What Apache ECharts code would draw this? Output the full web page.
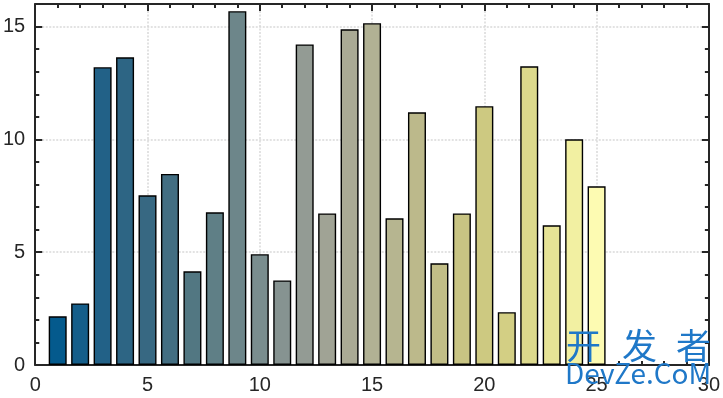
<!DOCTYPE html>
<html lang="en">
<head>
    <meta charset="UTF-8">
    <title>bar</title>
    <script src="https://cdn.jsdelivr.net/npm/echarts@6/dist/echarts.min.js"></script>
    <style>
        html, body { margin: 0; padding: 0; background: #fff; }
        .box { width: 723px; height: 398px; }
    </style>
</head>
<body>
    <div class="box"></div>
</body>
<script>
 // 数据
 let xs = [1, 2, 3, 4, 5, 6, 7, 8, 9, 10, 11, 12, 13, 14, 15, 16, 17, 18, 19, 20, 21, 22, 23, 24, 25]
 let vals = [2.16, 2.73, 13.2, 13.64, 7.52, 8.47, 4.15, 6.77, 15.68, 4.91, 3.75, 14.21, 6.72,
             14.88, 15.15, 6.50, 11.2, 4.51, 6.72, 11.47, 2.34, 13.24, 6.19, 10.0, 7.92]
 // 每根柱子的颜色
 let colors = ['#045A8D', '#155E8A', '#226187', '#2D6584', '#376882', '#436E82', '#527782', '#5F7F86',
               '#6D868A', '#7A8D8E', '#869391', '#939B94', '#A0A395', '#AAAA95', '#B1B194', '#B6B590',
               '#BCB98B', '#C2BE87', '#C8C483', '#CDC981', '#D3CF84', '#DCD98C', '#E6E396', '#F2F0A2', '#FDFBB2']

 let axisColor = '#262626'
 let font = 'Liberation Sans, Arial, sans-serif'
 let chart = echarts.init(document.querySelector('.box'))

 let tickStuff = function (labels) {
    return {
        axisLine: { show: true, onZero: false, lineStyle: { color: axisColor, width: 2 } },
        axisTick: { show: true, inside: true, length: 7, lineStyle: { color: axisColor, width: 2 } },
        minorTick: { show: true, splitNumber: 5, length: 4, lineStyle: { color: axisColor, width: 2 } },
        axisLabel: { show: labels, color: axisColor, fontSize: 20, margin: 10, fontFamily: font }
    }
 }

 // 水印
 let wmColor = '#1F78C8'
 let wm = function (txt, left, top, size) {
    return { type: 'text', left: left, top: top, z: 100,
             style: { text: txt, fill: wmColor, fontSize: size, fontFamily: 'Noto Sans CJK SC' } }
 }

 let option = {
    animation: false,
    grid: { left: 33, right: 14, top: 4, bottom: 33 },
    xAxis: [
        Object.assign({
            type: 'value', min: 0, max: 30, interval: 5, position: 'bottom',
            splitLine: { show: true, lineStyle: { color: '#d9d9d9', type: [2, 1.5], width: 1.5 } },
        }, tickStuff(true)),
        Object.assign({
            type: 'value', min: 0, max: 30, interval: 5, position: 'top',
            splitLine: { show: false }
        }, tickStuff(false))
    ],
    yAxis: [
        Object.assign({
            type: 'value', min: 0, max: 16, interval: 5, position: 'left',
            splitLine: { show: true, lineStyle: { color: '#d9d9d9', type: [2, 1.5], width: 1.5 } },
        }, tickStuff(true), { axisLabel: { color: axisColor, fontSize: 20, margin: 10, fontFamily: font,
            formatter: function (v) { return v % 5 === 0 ? v : '' } } }),
        Object.assign({
            type: 'value', min: 0, max: 16, interval: 5, position: 'right',
            splitLine: { show: false }
        }, tickStuff(false))
    ],
    series: [{
        type: 'bar',
        barWidth: 18,
        data: xs.map(function (x, i) {
            return { value: [x, vals[i]], itemStyle: { color: colors[i], borderColor: '#000', borderWidth: 1.4 } }
        })
    }],
    graphic: [
        wm('开', 566, 328, 35),
        wm('发', 622, 328, 35),
        wm('者', 676, 328, 35),
        wm('DevZe.CoM', 565, 359, 28)
    ]
 }
 chart.setOption(option)
</script>
</html>
